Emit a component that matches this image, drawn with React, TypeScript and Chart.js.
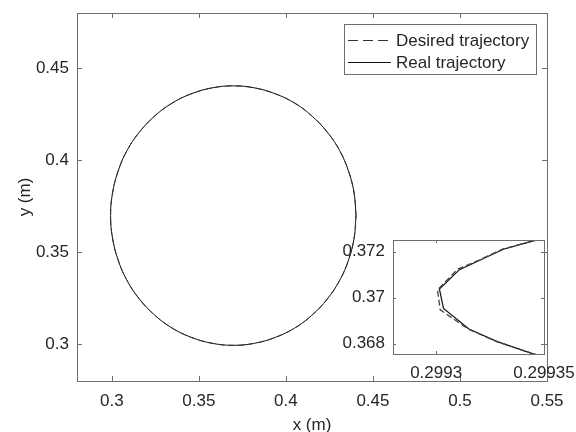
import React, { useEffect, useRef } from "react";
import { Chart, registerables } from "chart.js";

Chart.register(...registerables);

// ---- data ----
const seriesLabels = ["Desired trajectory", "Real trajectory"];

const desiredX = [
  0.4403, 0.4392, 0.436, 0.4309, 0.4238, 0.4151, 0.4051, 0.3939, 0.382, 0.3698,
  0.3576, 0.3457, 0.3346, 0.3245, 0.3158, 0.3087, 0.3036, 0.3004, 0.2993,
  0.3004, 0.3036, 0.3087, 0.3158, 0.3245, 0.3346, 0.3457, 0.3576, 0.3698,
  0.382, 0.3939, 0.4051, 0.4151, 0.4238, 0.4309, 0.436, 0.4392, 0.4403,
];
const desiredY = [
  0.3699, 0.3821, 0.394, 0.4052, 0.4152, 0.4239, 0.431, 0.4361, 0.4393, 0.4404,
  0.4393, 0.4361, 0.431, 0.4239, 0.4152, 0.4052, 0.394, 0.3821, 0.3699,
  0.3577, 0.3458, 0.3347, 0.3246, 0.3159, 0.3088, 0.3037, 0.3005, 0.2994,
  0.3005, 0.3037, 0.3088, 0.3159, 0.3246, 0.3347, 0.3458, 0.3577, 0.3699,
];
const realX = [
  0.4403, 0.4392, 0.436, 0.4309, 0.4238, 0.4151, 0.4051, 0.3939, 0.382, 0.3698,
  0.3576, 0.3457, 0.3346, 0.3245, 0.3158, 0.3087, 0.3036, 0.3004, 0.2993,
  0.3004, 0.3036, 0.3087, 0.3158, 0.3245, 0.3346, 0.3457, 0.3576, 0.3698,
  0.382, 0.3939, 0.4051, 0.4151, 0.4238, 0.4309, 0.436, 0.4392, 0.4403,
];
const realY = [
  0.3699, 0.3821, 0.394, 0.4052, 0.4152, 0.4239, 0.431, 0.4361, 0.4393, 0.4404,
  0.4393, 0.4361, 0.431, 0.4239, 0.4152, 0.4052, 0.394, 0.3821, 0.3699,
  0.3577, 0.3458, 0.3347, 0.3246, 0.3159, 0.3088, 0.3037, 0.3005, 0.2994,
  0.3005, 0.3037, 0.3088, 0.3159, 0.3246, 0.3347, 0.3458, 0.3577, 0.3699,
];

const xTicks = [0.3, 0.35, 0.4, 0.45, 0.5, 0.55];
const xTickLabels = ["0.3", "0.35", "0.4", "0.45", "0.5", "0.55"];
const yTicks = [0.3, 0.35, 0.4, 0.45];
const yTickLabels = ["0.3", "0.35", "0.4", "0.45"];
const xTitle = "x (m)";
const yTitle = "y (m)";

// inset (zoom on the left-most point of the circle)
const insetDesiredX = [
  0.29936, 0.299345, 0.299331, 0.29932, 0.29931, 0.2993006, 0.2993019,
  0.299315, 0.2993281, 0.2993443, 0.29936,
];
const insetDesiredY = [
  0.3728, 0.37247, 0.37212, 0.37164, 0.37124, 0.37034, 0.36947, 0.36863,
  0.36809, 0.36758, 0.3672,
];
const insetRealX = [
  0.29936, 0.299345, 0.2993312, 0.2993202, 0.2993108, 0.2993015, 0.2993034,
  0.2993152, 0.2993283, 0.2993443, 0.29936,
];
const insetRealY = [
  0.3728, 0.37247, 0.37211, 0.37163, 0.37122, 0.37038, 0.36953, 0.36864,
  0.36809, 0.36758, 0.3672,
];
const insetXTicks = [0.2993, 0.29935];
const insetXTickLabels = ["0.2993", "0.29935"];
const insetYTicks = [0.368, 0.37, 0.372];
const insetYTickLabels = ["0.368", "0.37", "0.372"];

// ---- styles ----
const FONT = { family: "'Liberation Sans', Arial, Helvetica, sans-serif", size: 17 };
const TEXT = "#262626";
const AXIS = "#6e6e6e";

function pts(xs: number[], ys: number[]) {
  return xs.map((x, i) => ({ x, y: ys[i] }));
}

function labelFor(values: number[], labels: string[]) {
  return (v: any) => {
    const i = values.findIndex((t) => Math.abs(t - Number(v)) < 1e-9);
    return i >= 0 ? labels[i] : "";
  };
}

function zeroPad(s: any) {
  s.paddingTop = 0;
  s.paddingBottom = 0;
  s.paddingLeft = 0;
  s.paddingRight = 0;
}

function axesPlugin(tickLen: number) {
  return {
    id: "axesBox",
    beforeDatasetsDraw(chart: any) {
      const { ctx, chartArea: a } = chart;
      ctx.save();
      ctx.fillStyle = "#ffffff";
      ctx.fillRect(a.left, a.top, a.right - a.left, a.bottom - a.top);
      ctx.restore();
    },
    afterDatasetsDraw(chart: any) {
      const { ctx, chartArea: a, scales } = chart;
      ctx.save();
      ctx.strokeStyle = AXIS;
      ctx.lineWidth = 1;
      ctx.setLineDash([]);
      ctx.beginPath();
      scales.x.ticks.forEach((t: any) => {
        const px = Math.round(scales.x.getPixelForValue(t.value)) + 0.5;
        ctx.moveTo(px, a.bottom);
        ctx.lineTo(px, a.bottom - tickLen);
        ctx.moveTo(px, a.top);
        ctx.lineTo(px, a.top + tickLen);
      });
      scales.y.ticks.forEach((t: any) => {
        const py = Math.round(scales.y.getPixelForValue(t.value)) + 0.5;
        ctx.moveTo(a.left, py);
        ctx.lineTo(a.left + tickLen, py);
        ctx.moveTo(a.right, py);
        ctx.lineTo(a.right - tickLen, py);
      });
      ctx.stroke();
      ctx.strokeRect(
        Math.round(a.left) + 0.5,
        Math.round(a.top) + 0.5,
        Math.round(a.right - a.left),
        Math.round(a.bottom - a.top)
      );
      ctx.restore();
    },
  };
}

const legendPlugin = {
  id: "boxLegend",
  afterDraw(chart: any) {
    const { ctx, chartArea: a } = chart;
    const w = 192;
    const h = 50;
    const x0 = a.right - 11 - w;
    const y0 = a.top + 11;
    ctx.save();
    ctx.fillStyle = "#ffffff";
    ctx.fillRect(x0, y0, w, h);
    ctx.strokeStyle = AXIS;
    ctx.lineWidth = 1;
    ctx.strokeRect(Math.round(x0) + 0.5, Math.round(y0) + 0.5, w, h);
    const rows = [y0 + 16, y0 + 38];
    chart.data.datasets.forEach((ds: any, i: number) => {
      const y = Math.round(rows[i]) + 0.5;
      ctx.strokeStyle = ds.borderColor;
      ctx.lineWidth = 1;
      ctx.setLineDash(ds.borderDash && ds.borderDash.length ? [10, 5] : []);
      ctx.beginPath();
      ctx.moveTo(x0 + 4, y);
      ctx.lineTo(x0 + 47, y);
      ctx.stroke();
      ctx.setLineDash([]);
      ctx.fillStyle = TEXT;
      ctx.font = `${FONT.size}px ${FONT.family}`;
      ctx.textBaseline = "middle";
      ctx.textAlign = "left";
      ctx.fillText(ds.label, x0 + 52, rows[i] + 1);
    });
    ctx.restore();
  },
};

export default function App() {
  const mainRef = useRef<HTMLCanvasElement>(null);
  const insetRef = useRef<HTMLCanvasElement>(null);

  useEffect(() => {
    const main = new Chart(mainRef.current as HTMLCanvasElement, {
      type: "scatter",
      data: {
        datasets: [
          {
            label: seriesLabels[0],
            data: pts(desiredX, desiredY),
            showLine: true,
            borderColor: "#333333",
            borderWidth: 1,
            borderDash: [6, 4],
            pointRadius: 0,
            tension: 0.4,
          },
          {
            label: seriesLabels[1],
            data: pts(realX, realY),
            showLine: true,
            borderColor: "#111111",
            borderWidth: 1,
            pointRadius: 0,
            tension: 0.4,
          },
        ],
      },
      options: {
        animation: false,
        responsive: false,
        layout: { padding: { left: 0, right: 29, top: 13, bottom: 0 } },
        plugins: { legend: { display: false }, tooltip: { enabled: false } },
        scales: {
          x: {
            type: "linear",
            min: 0.28,
            max: 0.55,
            afterBuildTicks: (s: any) => {
              s.ticks = xTicks.map((v) => ({ value: v }));
            },
            afterFit: (s: any) => {
              s.height = 51;
              zeroPad(s);
            },
            grid: { display: false, drawTicks: false },
            border: { display: false },
            ticks: {
              autoSkip: false,
              maxRotation: 0,
              padding: 10,
              font: FONT,
              color: TEXT,
              callback: labelFor(xTicks, xTickLabels),
            },
            title: {
              display: true,
              text: xTitle,
              font: FONT,
              color: TEXT,
              padding: { top: 0, bottom: -4 },
            },
          },
          y: {
            type: "linear",
            min: 0.28,
            max: 0.48,
            afterBuildTicks: (s: any) => {
              s.ticks = yTicks.map((v) => ({ value: v }));
            },
            afterFit: (s: any) => {
              s.width = 77;
              zeroPad(s);
            },
            grid: { display: false, drawTicks: false },
            border: { display: false },
            ticks: {
              autoSkip: false,
              padding: 8,
              font: FONT,
              color: TEXT,
              callback: labelFor(yTicks, yTickLabels),
            },
            title: {
              display: true,
              text: yTitle,
              font: FONT,
              color: TEXT,
              padding: { top: 15, bottom: 0 },
            },
          },
        },
      },
      plugins: [axesPlugin(5), legendPlugin],
    } as any);

    const inset = new Chart(insetRef.current as HTMLCanvasElement, {
      type: "scatter",
      data: {
        datasets: [
          {
            label: seriesLabels[0],
            data: pts(insetDesiredX, insetDesiredY),
            showLine: true,
            borderColor: "#444444",
            borderWidth: 1.3,
            borderDash: [6, 3],
            pointRadius: 0,
          },
          {
            label: seriesLabels[1],
            data: pts(insetRealX, insetRealY),
            showLine: true,
            borderColor: "#111111",
            borderWidth: 1.2,
            pointRadius: 0,
          },
        ],
      },
      options: {
        animation: false,
        responsive: false,
        layout: { padding: { left: 0, right: 32, top: 8, bottom: 0 } },
        plugins: { legend: { display: false }, tooltip: { enabled: false } },
        scales: {
          x: {
            type: "linear",
            min: 0.29928,
            max: 0.29935,
            afterBuildTicks: (s: any) => {
              s.ticks = insetXTicks.map((v) => ({ value: v }));
            },
            afterFit: (s: any) => {
              s.height = 28;
              zeroPad(s);
            },
            grid: { display: false, drawTicks: false },
            border: { display: false },
            ticks: {
              autoSkip: false,
              maxRotation: 0,
              padding: 9,
              font: FONT,
              color: TEXT,
              callback: labelFor(insetXTicks, insetXTickLabels),
            },
          },
          y: {
            type: "linear",
            min: 0.36755,
            max: 0.37251,
            afterBuildTicks: (s: any) => {
              s.ticks = insetYTicks.map((v) => ({ value: v }));
            },
            afterFit: (s: any) => {
              s.width = 57;
              zeroPad(s);
            },
            grid: { display: false, drawTicks: false },
            border: { display: false },
            ticks: {
              autoSkip: false,
              padding: 8,
              font: FONT,
              color: TEXT,
              callback: labelFor(insetYTicks, insetYTickLabels),
            },
          },
        },
      },
      plugins: [axesPlugin(3)],
    } as any);

    return () => {
      main.destroy();
      inset.destroy();
    };
  }, []);

  return (
    <div
      style={{
        position: "fixed",
        left: 0,
        top: 0,
        width: 576,
        height: 432,
        background: "#ffffff",
      }}
    >
      <canvas
        ref={mainRef}
        width={576}
        height={432}
        style={{ position: "absolute", left: 0, top: 0, width: 576, height: 432 }}
      />
      <canvas
        ref={insetRef}
        width={240}
        height={150}
        style={{ position: "absolute", left: 336, top: 232, width: 240, height: 150 }}
      />
    </div>
  );
}
